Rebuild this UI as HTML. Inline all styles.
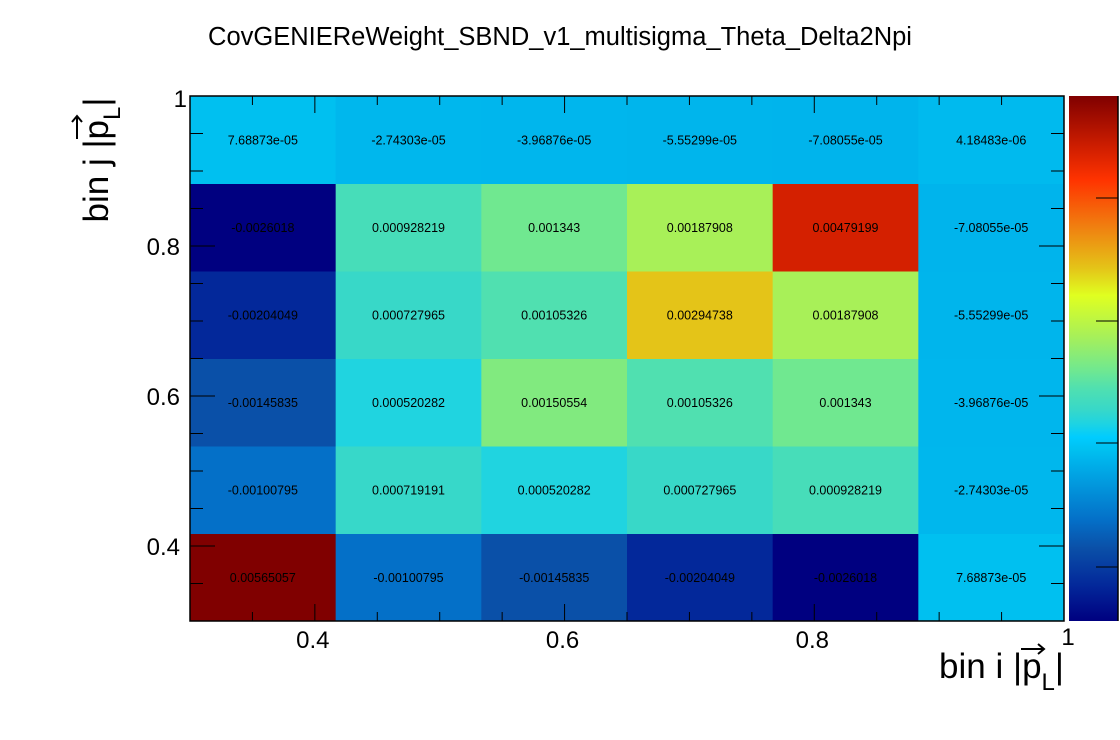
<!DOCTYPE html>
<html><head><meta charset="utf-8">
<style>
html,body{margin:0;padding:0;background:#fff;}
svg{display:block;font-family:"Liberation Sans",sans-serif;}
</style></head>
<body>
<svg id="chart" width="1120" height="740" viewBox="0 0 1120 740">
<rect width="1120" height="740" fill="#fff"/>
<text x="560" y="45" text-anchor="middle" font-size="25.5" fill="#000">CovGENIEReWeight_SBND_v1_multisigma_Theta_Delta2Npi</text>
<g id="cells"></g>
<g id="axes"></g>
<g id="cbar"></g>
<text transform="translate(108,160) rotate(-90)" text-anchor="middle" font-size="35" fill="#000">bin j |p<tspan font-size="24" dy="12">L</tspan><tspan dy="-12">|</tspan></text>
<path d="M77,139 L77,116 M72,122 L77,116 L82,122" stroke="#000" stroke-width="2" fill="none"/>
<text x="1064" y="678" text-anchor="end" font-size="35" fill="#000">bin i |p<tspan font-size="24" dy="12">L</tspan><tspan dy="-12">|</tspan></text>
<path d="M1021,649 L1044,649 M1038,644 L1044,649 L1038,654" stroke="#000" stroke-width="2" fill="none"/>
</svg>
<script>
const xBins = [0, 1, 2, 3, 4, 5];
const yBins = [0, 1, 2, 3, 4, 5];
const row0 = [0.00565057, -0.00100795, -0.00145835, -0.00204049, -0.0026018, 7.68873e-05];
const row1 = [-0.00100795, 0.000719191, 0.000520282, 0.000727965, 0.000928219, -2.74303e-05];
const row2 = [-0.00145835, 0.000520282, 0.00150554, 0.00105326, 0.001343, -3.96876e-05];
const row3 = [-0.00204049, 0.000727965, 0.00105326, 0.00294738, 0.00187908, -5.55299e-05];
const row4 = [-0.0026018, 0.000928219, 0.001343, 0.00187908, 0.00479199, -7.08055e-05];
const row5 = [7.68873e-05, -2.74303e-05, -3.96876e-05, -5.55299e-05, -7.08055e-05, 4.18483e-06];
const rows = [row0, row1, row2, row3, row4, row5];
const xTickLabels = [0.4, 0.6, 0.8, 1];
const yTickLabels = [0.4, 0.6, 0.8, 1];

const NS = "http://www.w3.org/2000/svg";
const L = 190, R = 1064, T = 96, B = 621;
const axMin = 0.3, axMax = 1.0;
const xAx = v => L + (v - axMin) / (axMax - axMin) * (R - L);
const yAx = v => B - (v - axMin) / (axMax - axMin) * (B - T);
const cellW = (R - L) / xBins.length, cellH = (B - T) / yBins.length;
const xBin = i => L + i * cellW;
const yBin = j => B - (j + 1) * cellH;

const all = rows.flat();
const vmin = Math.min(...all), vmax = Math.max(...all);
const stops = [[0,"#000080"],[0.068,"#03289a"],[0.139,"#0a50a8"],[0.193,"#0470c8"],[0.307,"#00b4ec"],[0.325,"#00c0f0"],[0.35,"#00ccff"],[0.378,"#20d4e0"],[0.403,"#38d8c8"],[0.443,"#50e0b0"],[0.478,"#70e890"],[0.543,"#a8f058"],[0.62,"#e0ff20"],[0.672,"#e4c418"],[0.75,"#f08010"],[0.84,"#ff3300"],[0.896,"#d42000"],[1,"#800000"]];
function hx(c){return [1,3,5].map(k=>parseInt(c.substr(k,2),16));}
function color(f){
  f=Math.max(0,Math.min(1,f));
  for(let k=1;k<stops.length;k++){
    if(f<=stops[k][0]){
      const [f0,c0]=stops[k-1],[f1,c1]=stops[k];
      const t=(f-f0)/(f1-f0||1);const a=hx(c0),b=hx(c1);
      return "rgb("+a.map((x,i)=>Math.round(x+(b[i]-x)*t)).join(",")+")";
    }
  }
  return stops[stops.length-1][1];
}
function fmt(v){
  if(v!==0 && Math.abs(v)<1e-4){
    let s=v.toExponential(5);let [m,e]=s.split("e");
    m=m.replace(/\.?0+$/,"");const sign=e[0]==="-"?"-":"+";let d=e.replace(/[+-]/,"");if(d.length<2)d="0"+d;
    return m+"e"+sign+d;
  }
  return String(parseFloat(v.toPrecision(6)));
}
function mk(tag,attrs,parent){const e=document.createElementNS(NS,tag);for(const k in attrs)e.setAttribute(k,attrs[k]);parent.appendChild(e);return e;}

const cells=document.getElementById("cells");
yBins.forEach(j=>{xBins.forEach(i=>{
  const v=rows[j][i];
  const r=mk("rect",{x:xBin(i),y:yBin(j),width:cellW+0.5,height:cellH+0.5,fill:color((v-vmin)/(vmax-vmin))},cells);
  
  
  const t=mk("text",{x:xBin(i)+cellW/2,y:yBin(j)+cellH/2+4.5,"text-anchor":"middle","font-size":"12.5",fill:"#000"},cells);
  t.textContent=fmt(v);
  
  
});});

const ax=document.getElementById("axes");
const fr=mk("rect",{x:L,y:T,width:R-L,height:B-T,fill:"none",stroke:"#000","stroke-width":1.5},ax);


for(let k=0;k<=14;k++){
  const v=axMin+k*0.05; const major=(k%4===2);
  const x=xAx(v), y=yAx(v);
  const lx=major?17:9, ly=major?25:13;
  mk("line",{x1:x,y1:B,x2:x,y2:B-lx,stroke:"#000"},ax);
  mk("line",{x1:x,y1:T,x2:x,y2:T+lx,stroke:"#000"},ax);
  mk("line",{x1:L,y1:y,x2:L+ly,y2:y,stroke:"#000"},ax);
  mk("line",{x1:R,y1:y,x2:R-ly,y2:y,stroke:"#000"},ax);
}
xTickLabels.forEach(v=>{
  const t=mk("text",{x:xAx(v)+(v===1?4:-2),y:v===1?645:648,"text-anchor":"middle","font-size":"24",fill:"#000"},ax);
  t.textContent=String(v);
  
  
});
yTickLabels.forEach(v=>{
  const t=mk("text",{x:v===1?187:180,y:yAx(v)+(v===1?11:9),"text-anchor":"end","font-size":"24",fill:"#000"},ax);
  t.textContent=String(v);
  
  
});

const cb=document.getElementById("cbar");
const defs=mk("defs",{},cb);
const g=mk("linearGradient",{id:"pal",x1:0,y1:1,x2:0,y2:0},defs);
stops.forEach(s=>mk("stop",{offset:s[0],"stop-color":s[1]},g));
const cr=mk("rect",{x:1069,y:T,width:49,height:B-T,fill:"url(#pal)"},cb);


mk("line",{x1:1118,y1:T,x2:1118,y2:B,stroke:"#000","stroke-width":1.5},cb);
[198,321,443,567].forEach(y=>mk("line",{x1:1096,y1:y,x2:1118,y2:y,stroke:"#000"},cb));
</script>
</body></html>
